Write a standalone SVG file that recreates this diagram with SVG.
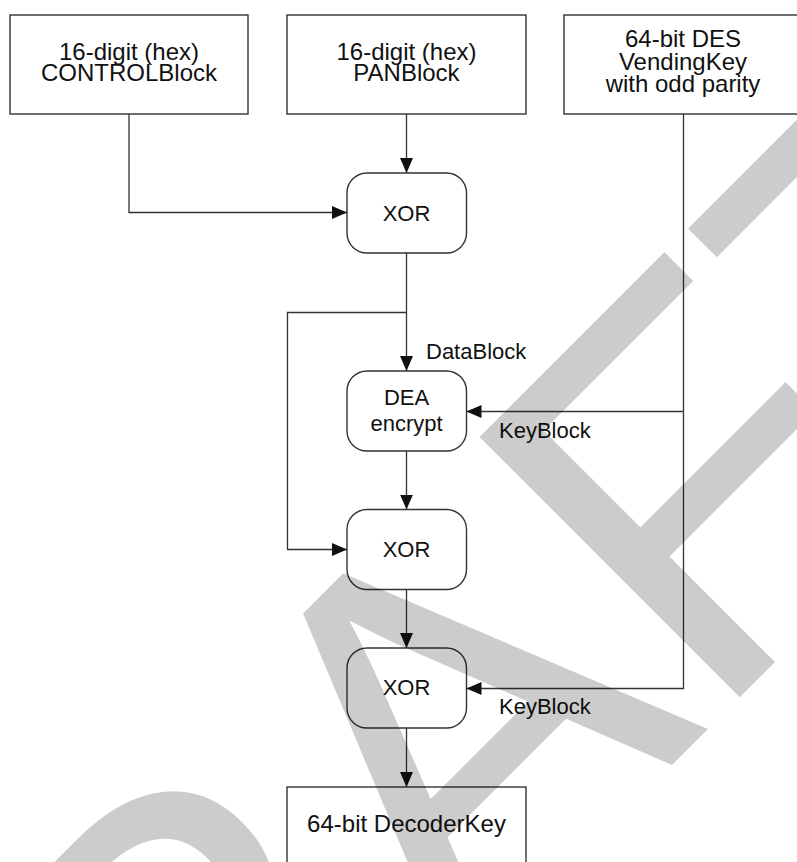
<svg xmlns="http://www.w3.org/2000/svg" width="797" height="862" viewBox="0 0 797 862">
  <style>
    .box { fill: #ffffff; stroke: #333333; stroke-width: 1.4; }
    .t24 { font-family: "Liberation Sans", Arial, sans-serif; font-size: 24px; fill: #111111; text-anchor: middle; }
    .t22 { font-family: "Liberation Sans", Arial, sans-serif; font-size: 22px; fill: #111111; text-anchor: middle; }
    .lbl { font-family: "Liberation Sans", Arial, sans-serif; font-size: 22px; fill: #111111; }
    .wire { fill: none; stroke: #333333; stroke-width: 1.3; }
    .arrow { fill: none; stroke: #333333; stroke-width: 1.3; marker-end: url(#head); }
    .mark { font-family: "Liberation Sans", Arial, sans-serif; font-size: 535px; fill: #000000; fill-opacity: 0.2; }
  </style>
  <defs>
    <marker id="head" markerUnits="userSpaceOnUse" markerWidth="15" markerHeight="13" refX="15" refY="6.5" orient="auto">
      <path d="M0,0 L15,6.5 L0,13 z" fill="#111111"/>
    </marker>
  </defs>

  <rect width="797" height="862" fill="#ffffff"/>

  <!-- input blocks -->
  <g id="control-block">
    <rect class="box" x="10" y="15" width="238" height="99"/>
    <text class="t24" x="129" y="60">16-digit (hex)</text>
    <text class="t24" x="129" y="81">CONTROLBlock</text>
  </g>
  <g id="pan-block">
    <rect class="box" x="287" y="15" width="239" height="99"/>
    <text class="t24" x="406.5" y="60">16-digit (hex)</text>
    <text class="t24" x="406.5" y="81">PANBlock</text>
  </g>
  <g id="vending-key">
    <rect class="box" x="564" y="15" width="238" height="99"/>
    <text class="t24" x="683" y="46.5">64-bit DES</text>
    <text class="t24" x="683" y="69.5">VendingKey</text>
    <text class="t24" x="683" y="91.5">with odd parity</text>
  </g>

  <!-- processing steps -->
  <g id="xor-1">
    <rect class="box" x="347" y="173" width="119.5" height="80" rx="20" ry="20"/>
    <text class="t22" x="406.5" y="221">XOR</text>
  </g>
  <g id="dea-encrypt">
    <rect class="box" x="347" y="371" width="119.5" height="80" rx="20" ry="20"/>
    <text class="t22" x="406.5" y="404.5">DEA</text>
    <text class="t22" x="406.5" y="431">encrypt</text>
  </g>
  <g id="xor-2">
    <rect class="box" x="347" y="509.5" width="119.5" height="80" rx="20" ry="20"/>
    <text class="t22" x="406.5" y="557">XOR</text>
  </g>
  <g id="xor-3">
    <rect class="box" x="347" y="648" width="119.5" height="80" rx="20" ry="20"/>
    <text class="t22" x="406.5" y="695">XOR</text>
  </g>

  <!-- output -->
  <g id="decoder-key">
    <rect class="box" x="287" y="787" width="239" height="100"/>
    <text class="t24" x="406.5" y="832">64-bit DecoderKey</text>
  </g>

  <!-- connectors -->
  <g id="connectors">
    <path class="arrow" d="M129,114 V212.5 H347"/>
    <path class="arrow" d="M406.5,114 V173"/>
    <path class="arrow" d="M406.5,253 V371"/>
    <path class="arrow" d="M406.5,312.5 H287.5 V549.5 H347"/>
    <path class="arrow" d="M406.5,451 V509.5"/>
    <path class="arrow" d="M406.5,589.5 V648"/>
    <path class="arrow" d="M406.5,728 V787"/>
    <path class="wire" d="M683.5,114 V411.5"/>
    <path class="arrow" d="M683.5,411.5 H466.5"/>
    <path class="arrow" d="M683.5,411.5 V688.5 H466.5"/>
    <text class="lbl" x="426" y="358.5">DataBlock</text>
    <text class="lbl" x="499" y="437.5">KeyBlock</text>
    <text class="lbl" x="499" y="714">KeyBlock</text>
  </g>

  <!-- diagonal draft watermark -->
  <text class="mark" transform="translate(-90,1527) rotate(-45)">DRAFT</text>
</svg>
